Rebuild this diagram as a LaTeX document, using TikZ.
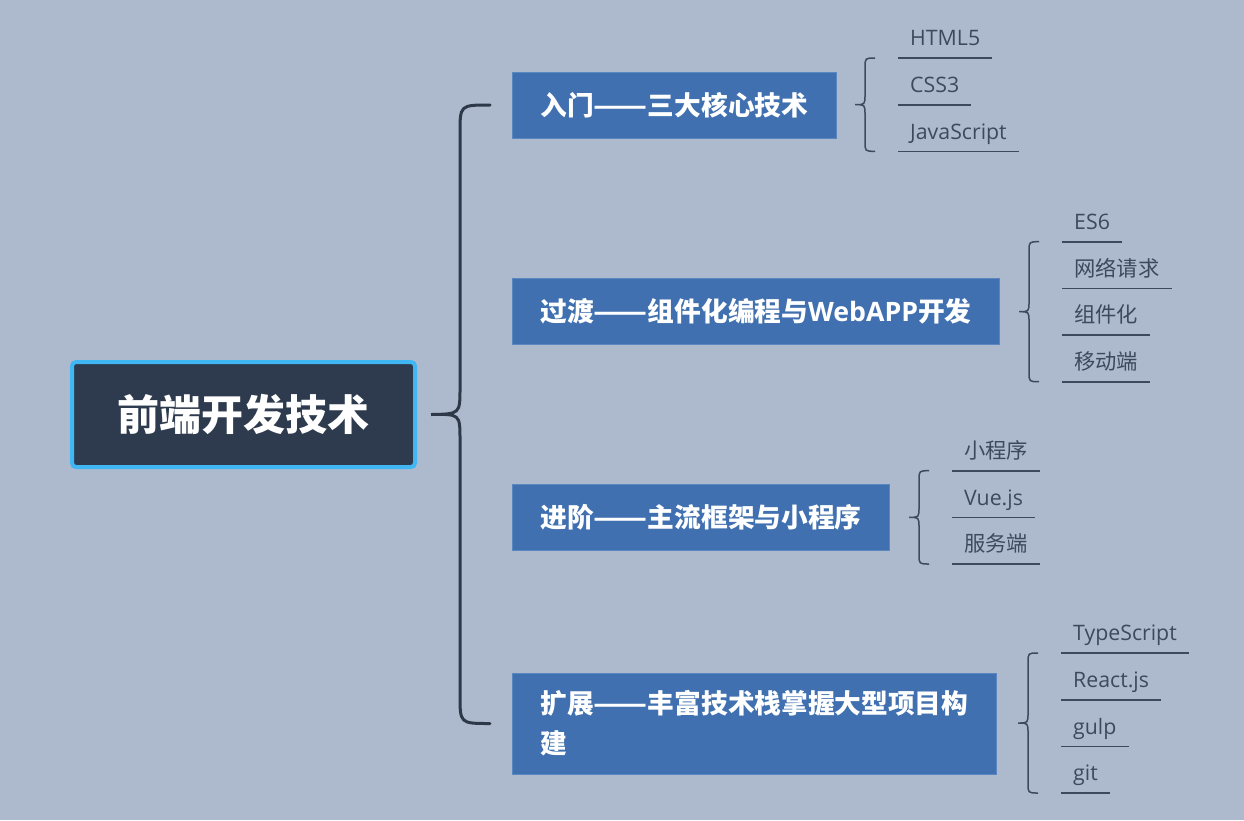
\documentclass[tikz,border=0pt]{standalone}
\usepackage{fontspec}
\setmainfont{Open Sans}
\newfontfamily\cjk{Noto Sans CJK SC}
\usetikzlibrary{calc}
\definecolor{canvasbg}{HTML}{ADBACE}
\definecolor{rootfill}{HTML}{2E3B4E}
\definecolor{rootedge}{HTML}{40B6F2}
\definecolor{branchfill}{HTML}{4070AF}
\definecolor{branchedge}{HTML}{5A87C0}
\definecolor{bracecol}{HTML}{2D3949}
\definecolor{leafcol}{HTML}{3D4A5D}

% full-width double dash
\newcommand{\dashes}{\scalebox{1.18}[1]{——}}
% leaf with its underline
\newcommand{\leaf}[3]{%
  \node[leaf] (#1) at (#2) {#3};
  \draw[leafline] (#1.south west) -- (#1.south east);}
% small brace from the first to the last leaf of a branch
\newcommand{\leafbrace}[2]{%
  \draw[leafbrace] let \p1=([xshift=-23pt]#1.south west), \p2=([xshift=-23pt]#2.south west),
    \p3=($(\p1)!0.5!(\p2)$) in
    (\p1) .. controls (\x1-10pt,\y1) .. (\x1-10pt,\y1-10pt) -- (\x1-10pt,\y3+10pt)
    .. controls (\x1-10pt,\y3) .. (\x1-20pt,\y3) .. controls (\x1-10pt,\y3) .. (\x1-10pt,\y3-10pt)
    -- (\x1-10pt,\y2+10pt) .. controls (\x1-10pt,\y2) .. (\p2);}

\begin{document}
\begin{tikzpicture}[x=1pt, y=-1pt,
  rootbox/.style={draw=rootedge, fill=rootfill, line width=4pt, rounded corners=4pt,
    minimum width=343pt, minimum height=105pt, text=white,
    font=\fontsize{42}{50}\selectfont\bfseries\cjk},
  branch/.style={anchor=west, fill=branchfill, draw=branchedge, line width=1pt, text=white,
    inner xsep=28pt, minimum height=66pt, align=left,
    font=\fontsize{26.7}{40}\selectfont\bfseries},
  leaf/.style={anchor=south west, inner xsep=12pt, inner ysep=0pt, text depth=12pt,
    text=leafcol, font=\fontsize{21.3}{25}\selectfont},
  leafline/.style={draw=leafcol, line width=1.6pt},
  leafbrace/.style={draw=leafcol, line width=1.5pt},
  mainbrace/.style={draw=bracecol, line width=3pt, line cap=round}]
  \path[use as bounding box, fill=canvasbg] (0,0) rectangle (1244,820);

  % root and branches
  \node[rootbox] (root) at (243.5,414.5) {前端开发技术};
  \node[branch] (b1) at (512,105) {\cjk 入门\dashes 三大核心技术};
  \node[branch] (b2) at (512,311) {{\cjk 过渡\dashes 组件化编程与}WebAPP{\cjk 开发}};
  \node[branch] (b3) at (512,517) {\cjk 进阶\dashes 主流框架与小程序};
  \node[branch, minimum height=101pt] (b4) at (512,723.5) {\cjk 扩展\dashes 丰富技术栈掌握大型项目构\\\cjk 建};

  % main brace
  \coordinate (hub) at ([xshift=14pt]root.east);
  \draw[mainbrace] ([xshift=-22pt]b1.west) .. controls (460,105) .. (460,133) -- (460,388)
    .. controls (460,414) .. (hub) .. controls (460,414) .. (460,440) -- (460,695)
    .. controls (460,723.5) .. ([xshift=-22pt]b4.west);

  % leaves of b1
  \leaf{l11}{898,58}{HTML5}
  \leaf{l12}{898,104.7}{CSS3}
  \leaf{l13}{898,151.3}{JavaScript}
  \leafbrace{l11}{l13}
  % leaves of b2
  \leaf{l21}{1062,241.7}{ES6}
  \leaf{l22}{1062,288.3}{\cjk 网络请求}
  \leaf{l23}{1062,335}{\cjk 组件化}
  \leaf{l24}{1062,381.7}{\cjk 移动端}
  \leafbrace{l21}{l24}
  % leaves of b3
  \leaf{l31}{952,470.7}{\cjk 小程序}
  \leaf{l32}{952,517.3}{Vue.js}
  \leaf{l33}{952,564}{\cjk 服务端}
  \leafbrace{l31}{l33}
  % leaves of b4
  \leaf{l41}{1061,653}{TypeScript}
  \leaf{l42}{1061,699.7}{React.js}
  \leaf{l43}{1061,746.3}{gulp}
  \leaf{l44}{1061,793}{git}
  \leafbrace{l41}{l44}
\end{tikzpicture}
\end{document}
